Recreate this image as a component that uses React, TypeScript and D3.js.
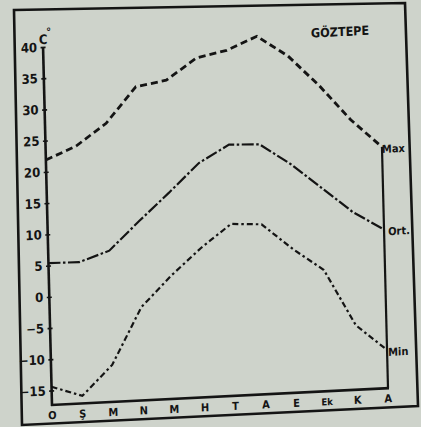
import { useEffect, useRef } from "react";
import * as d3 from "d3";

// Göztepe: monthly extreme max, mean, extreme min (°C)
const months = ["O", "Ş", "M", "N", "M", "H", "T", "A", "E", "Ek", "K", "A"];
const maxTemps = [21.9, 23.9, 27.3, 32.9, 33.7, 37.0, 38.0, 40.0, 36.6, 31.6, 25.9, 21.3];
const meanTemps = [5.4, 5.3, 6.9, 11.4, 15.7, 20.2, 22.9, 22.7, 19.3, 15.2, 11.1, 8.1];
const minTemps = [-14.4, -16.1, -11.4, -2.4, 2.4, 6.6, 10.2, 9.9, 5.7, 2.1, -7.0, -11.2];
const yTicks = [40, 35, 30, 25, 20, 15, 10, 5, 0, -5, -10, -15];

const paper = "#ced3cb";
const ink = "#141414";
const font = "'DejaVu Sans Condensed', 'DejaVu Sans', sans-serif";

export default function App() {
  const ref = useRef(null);

  useEffect(() => {
    draw();
  });

  function draw() {
    const svg = d3.select(ref.current);
    svg.selectAll("*").remove();

    svg.append("rect").attr("width", 421).attr("height", 427).attr("fill", paper);

    // outer frame, skewed like the scanned page
    svg
      .append("polygon")
      .attr("points", "14,10 405,3 418,406 22,425")
      .attr("fill", "none")
      .attr("stroke", ink)
      .attr("stroke-width", 2.6);

    // plot group; the scan is slightly sheared
    const plot = svg.append("g").attr("transform", "matrix(1,-0.05,0.025,1,52,405)");

    const x = d3.scaleLinear().domain([0, 11]).range([0, 336]);
    const y = d3.scaleLinear().domain([-15, 40]).range([-14.5, -358]);

    // y axis
    const yAxis = d3
      .axisLeft(y)
      .tickValues(yTicks)
      .tickSize(3)
      .tickPadding(3)
      .tickFormat(d3.format("d"));
    const ax = plot.append("g").call(yAxis);
    ax.select(".domain").remove();
    ax.selectAll(".tick line").attr("x1", -2.5).attr("x2", 2.5).attr("stroke", ink).attr("stroke-width", 1.6);
    ax.selectAll(".tick text")
      .attr("fill", ink)
      .attr("font-family", font)
      .attr("font-weight", 700)
      .attr("font-size", 13);

    plot
      .append("line")
      .attr("x1", 0)
      .attr("x2", 0)
      .attr("y1", 1)
      .attr("y2", y(40))
      .attr("stroke", ink)
      .attr("stroke-width", 2.6);

    // bottom line and right end line
    plot
      .append("line")
      .attr("x1", -1)
      .attr("x2", x(11) + 1)
      .attr("y1", 0)
      .attr("y2", 0)
      .attr("stroke", ink)
      .attr("stroke-width", 2.6);
    plot
      .append("line")
      .attr("x1", x(11))
      .attr("x2", x(11))
      .attr("y1", 0)
      .attr("y2", y(maxTemps[11]))
      .attr("stroke", ink)
      .attr("stroke-width", 2.2);

    // unit label
    const unit = plot
      .append("text")
      .attr("x", -4)
      .attr("y", y(40) - 3)
      .attr("font-family", font)
      .attr("font-weight", 700)
      .attr("font-size", 13)
      .attr("fill", ink);
    unit.append("tspan").text("C");
    unit.append("tspan").attr("dy", -8).attr("dx", -1).attr("font-size", 11).text("°");

    // month labels
    plot
      .selectAll("text.month")
      .data(months)
      .enter()
      .append("text")
      .attr("class", "month")
      .attr("x", (d, i) => x(i))
      .attr("y", 14)
      .attr("text-anchor", "middle")
      .attr("font-family", font)
      .attr("font-weight", 700)
      .attr("font-size", (d) => (d.length > 1 ? 9.5 : 11))
      .attr("fill", ink)
      .text((d) => d);

    // lines
    const line = d3
      .line<number>()
      .x((d, i) => x(i))
      .y((d) => y(d));

    plot
      .append("path")
      .attr("d", line(maxTemps))
      .attr("fill", "none")
      .attr("stroke", ink)
      .attr("stroke-width", 2.8)
      .attr("stroke-dasharray", "7,4");
    plot
      .append("path")
      .attr("d", line(meanTemps))
      .attr("fill", "none")
      .attr("stroke", ink)
      .attr("stroke-width", 2.2)
      .attr("stroke-dasharray", "12,2.5,2.5,2.5");
    plot
      .append("path")
      .attr("d", line(minTemps))
      .attr("fill", "none")
      .attr("stroke", ink)
      .attr("stroke-width", 2.2)
      .attr("stroke-dasharray", "6,3,2.5,3");

    // series labels at right end
    const ends: [string, number, number][] = [
      ["Max", maxTemps[11], 0],
      ["Ort.", meanTemps[11], 4],
      ["Min", minTemps[11], 1],
    ];
    plot
      .selectAll("text.series")
      .data(ends)
      .enter()
      .append("text")
      .attr("class", "series")
      .attr("x", (d) => x(11) + d[2])
      .attr("y", (d) => y(d[1]) + 6)
      .attr("font-family", font)
      .attr("font-weight", 700)
      .attr("font-size", 11)
      .attr("fill", ink)
      .text((d) => d[0]);

    // station title
    plot
      .append("text")
      .attr("x", 297)
      .attr("y", -354)
      .attr("text-anchor", "middle")
      .attr("font-family", font)
      .attr("font-weight", 700)
      .attr("font-size", 12.5)
      .attr("fill", ink)
      .text("GÖZTEPE");
  }

  return (
    <svg
      width={421}
      height={427}
      ref={ref}
      style={{ position: "absolute", left: 0, top: 0 }}
    ></svg>
  );
}
